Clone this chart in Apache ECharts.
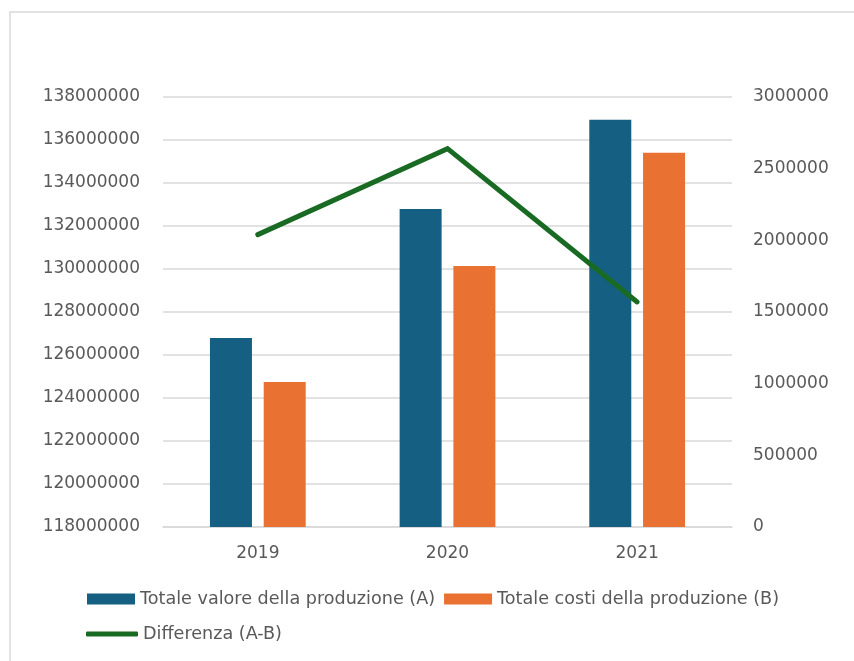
<!DOCTYPE html>
<html>
<head>
<meta charset="utf-8">
<style>
html,body{margin:0;padding:0;background:#fff;}
#chart{width:854px;height:661px;}
</style>
<script src="https://cdn.jsdelivr.net/npm/echarts@6/dist/echarts.min.js"></script>
</head>
<body>
<div id="chart"></div>
<script>
const categories = ['2019', '2020', '2021'];
const valoreProduzione = [126790000, 132790000, 136940000];
const costiProduzione = [124740000, 130140000, 135410000];
const differenza = [2040000, 2640000, 1570000];
const seriesNames = ['Totale valore della produzione (A)', 'Totale costi della produzione (B)', 'Differenza (A-B)'];

const FONT = 'DejaVu Sans';
const TXT = '#595959';
const plain = v => String(v);

const chart = echarts.init(document.getElementById('chart'), null, {renderer: 'canvas'});
chart.setOption({
  animation: false,
  backgroundColor: '#ffffff',
  graphic: [{
    type: 'rect', x: 10, y: 12, silent: true, z: -10,
    shape: {x: 0, y: 0, width: 900, height: 700},
    style: {fill: 'none', stroke: '#D9D9D9', lineWidth: 1.5}
  }],
  grid: {left: 163, right: 122, top: 97, bottom: 134, containLabel: false},
  legend: [{
    data: [seriesNames[0], seriesNames[1]],
    left: 87, top: 589, orient: 'horizontal', padding: 0,
    itemWidth: 48, itemHeight: 11, itemGap: 9, icon: 'rect',
    textStyle: {color: TXT, fontFamily: FONT, fontSize: 17.6, lineHeight: 20}
  }, {
    data: [{name: seriesNames[2], icon: 'roundRect'}],
    left: 86, top: 624, padding: 0,
    itemWidth: 52, itemHeight: 5,
    textStyle: {color: TXT, fontFamily: FONT, fontSize: 17.6, lineHeight: 20}
  }],
  xAxis: {
    type: 'category', data: categories,
    axisLine: {lineStyle: {color: '#D9D9D9', width: 1.5}},
    axisTick: {show: false},
    axisLabel: {color: TXT, fontFamily: FONT, fontSize: 17, margin: 18}
  },
  yAxis: [{
    type: 'value', min: 118000000, max: 138000000, interval: 2000000,
    axisLine: {show: false}, axisTick: {show: false},
    splitLine: {lineStyle: {color: '#D9D9D9', width: 1.5}},
    axisLabel: {color: TXT, fontFamily: FONT, fontSize: 17, margin: 23, formatter: plain}
  }, {
    type: 'value', min: 0, max: 3000000, interval: 500000,
    axisLine: {show: false}, axisTick: {show: false},
    splitLine: {show: false},
    axisLabel: {color: TXT, fontFamily: FONT, fontSize: 17, margin: 21, formatter: plain}
  }],
  series: [{
    name: seriesNames[0], type: 'bar', data: valoreProduzione,
    barWidth: 42, barGap: '28%',
    itemStyle: {color: '#156082'}
  }, {
    name: seriesNames[1], type: 'bar', data: costiProduzione,
    barWidth: 42,
    itemStyle: {color: '#E97132'}
  }, {
    name: seriesNames[2], type: 'line', yAxisIndex: 1, data: differenza,
    showSymbol: false, symbol: 'none',
    lineStyle: {color: '#196B24', width: 5, cap: 'round', join: 'miter'},
    itemStyle: {color: '#196B24'}
  }]
});
</script>
</body>
</html>
